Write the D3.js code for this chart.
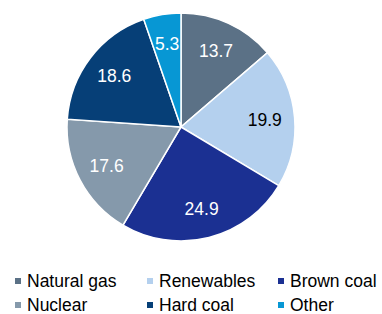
<!DOCTYPE html>
<html>
<head>
<meta charset="utf-8">
<script src="https://cdn.jsdelivr.net/npm/d3@7.9.0/dist/d3.min.js"></script>
<style>
  body { margin: 0; background: #fff; }
  text { font-family: "Liberation Sans", Arial, sans-serif; }
</style>
</head>
<body>
<svg id="chart" width="382" height="314"></svg>
<script>
// data
const categories = ['Natural gas', 'Renewables', 'Brown coal', 'Nuclear', 'Hard coal', 'Other'];
const shares = [13.7, 19.9, 24.9, 17.6, 18.6, 5.3];
const colors = ['#5b7186', '#b4d0ee', '#1b3092', '#8599ab', '#063f77', '#0797d4'];
const labelColors = ['#fff', '#000', '#fff', '#fff', '#fff', '#fff'];

const svg = d3.select('#chart');
const cx = 181, cy = 127, r = 114;

const data = categories.map((c, i) => ({ label: c, value: shares[i] }));
const pie = d3.pie().value(d => d.value).sort(null);
const arcs = pie(data);
const arcGen = d3.arc().innerRadius(0).outerRadius(r);
const labelArc = d3.arc().innerRadius(84).outerRadius(84);

const g = svg.append('g').attr('transform', `translate(${cx},${cy})`);

g.selectAll('path')
  .data(arcs)
  .join('path')
  .attr('d', arcGen)
  .attr('fill', (d, i) => colors[i])
  .attr('stroke', '#fff')
  .attr('stroke-width', 1.5);

g.selectAll('text')
  .data(arcs)
  .join('text')
  .attr('transform', d => `translate(${labelArc.centroid(d)})`)
  .attr('text-anchor', 'middle')
  .attr('dy', '0.35em')
  .attr('font-size', 17.5)
  .attr('fill', (d, i) => labelColors[i])
  .text(d => d.data.value.toFixed(1));

// legend, 3 columns x 2 rows
const colX = [15, 147, 278];
const rowY = [281, 305];
const legend = svg.append('g');
data.forEach((d, i) => {
  const x = colX[i % 3], y = rowY[Math.floor(i / 3)];
  const item = legend.append('g').attr('transform', `translate(${x},${y})`);
  item.append('rect')
    .attr('x', 0).attr('y', -3)
    .attr('width', 6).attr('height', 6)
    .attr('fill', colors[i]);
  item.append('text')
    .attr('x', 12)
    .attr('dy', '0.35em')
    .attr('font-size', 17.5)
    .attr('fill', '#000')
    .text(d.label);
});
</script>
</body>
</html>
